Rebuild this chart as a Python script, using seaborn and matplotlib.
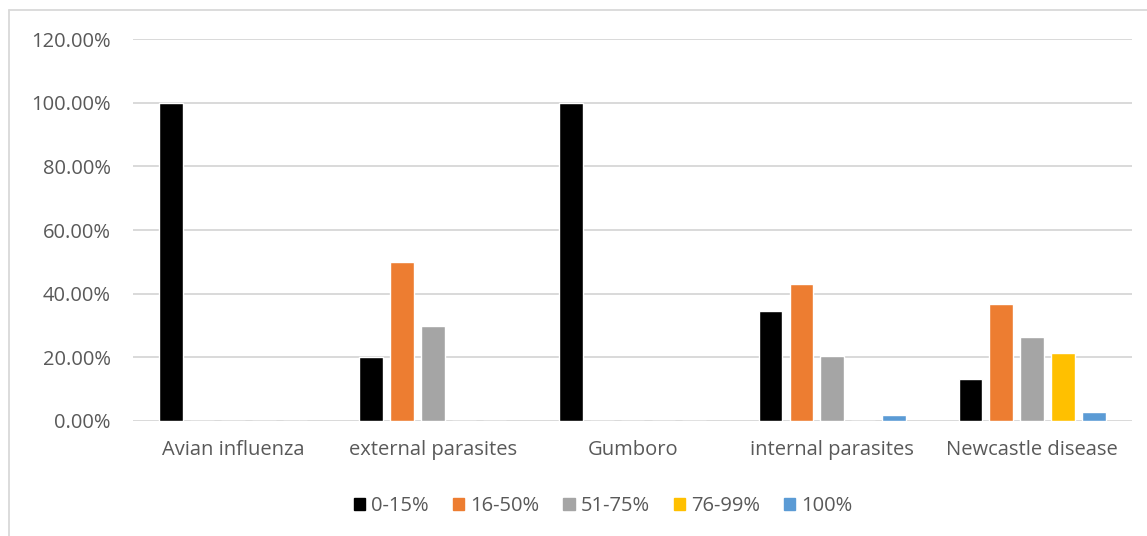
import matplotlib
matplotlib.use("Agg")
import matplotlib.pyplot as plt
from matplotlib.lines import Line2D
from matplotlib.ticker import FuncFormatter
import seaborn as sns
import pandas as pd

# Share of flocks by loss band for each disease
diseases = ["Avian influenza", "external parasites", "Gumboro",
            "internal parasites", "Newcastle disease"]
bands = ["0-15%", "16-50%", "51-75%", "76-99%", "100%"]
band_0_15 = [1.00, 0.20, 1.00, 0.347, 0.132]
band_16_50 = [0.0, 0.50, 0.0, 0.429, 0.368]
band_51_75 = [0.0, 0.30, 0.0, 0.204, 0.264]
band_76_99 = [0.0, 0.0, 0.0, 0.0, 0.214]
band_100 = [0.0, 0.0, 0.0, 0.02, 0.028]
colors = ["#000000", "#ED7D31", "#A5A5A5", "#FFC000", "#5B9BD5"]

rows = []
for band, vals in zip(bands, [band_0_15, band_16_50, band_51_75, band_76_99, band_100]):
    for d, v in zip(diseases, vals):
        rows.append({"disease": d, "band": band, "share": v})
df = pd.DataFrame(rows)

sns.set_theme(style="white")
plt.rcParams["font.family"] = ["Open Sans", "DejaVu Sans"]
text_col = "#595959"
fs = 14.5

fig = plt.figure(figsize=(11.47, 5.36), dpi=100)
ax = fig.add_axes([0.116, 0.2146, 0.871, 0.7124])

sns.barplot(data=df, x="disease", y="share", hue="band", order=diseases,
            hue_order=bands, palette=colors, width=0.773, gap=0.23,
            saturation=1, ax=ax, legend=False, zorder=3)

ax.set_ylim(0, 1.2)
ax.set_xlim(-0.5, len(diseases) - 0.5)
ax.set_yticks([0, 0.2, 0.4, 0.6, 0.8, 1.0, 1.2])
ax.yaxis.set_major_formatter(FuncFormatter(lambda v, p: f"{v*100:.2f}%"))
ax.grid(axis="y", color="#D9D9D9", linewidth=1.4, zorder=0)
ax.set_axisbelow(True)
for s in ax.spines.values():
    s.set_visible(False)
ax.set_xlabel("")
ax.set_ylabel("")
ax.tick_params(axis="y", length=0, pad=16, labelsize=fs, labelcolor=text_col)
ax.tick_params(axis="x", length=0, pad=14, labelsize=fs, labelcolor=text_col)

handles = [plt.Rectangle((0, 0), 1, 1, color=c) for c in colors]
fig.legend(handles, bands, loc="center", bbox_to_anchor=(0.526, 0.056),
           ncol=5, frameon=False, fontsize=fs, labelcolor=text_col,
           handlelength=0.55, handleheight=0.55, handletextpad=0.3,
           columnspacing=1.2)

# Chart frame
fig.add_artist(Line2D([0.008, 0.008], [0.0, 0.982], color="#D9D9D9",
                      linewidth=1.3, transform=fig.transFigure))
fig.add_artist(Line2D([0.008, 1.0], [0.982, 0.982], color="#D9D9D9",
                      linewidth=1.3, transform=fig.transFigure))

fig.savefig("out.png", dpi=100, facecolor="white")
